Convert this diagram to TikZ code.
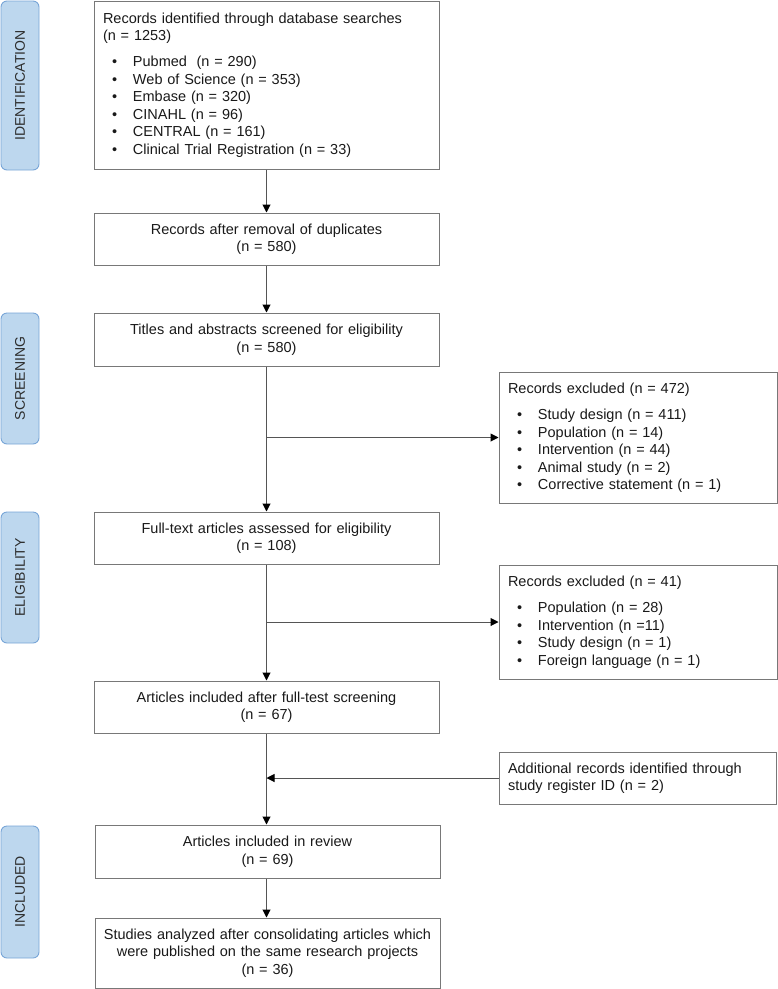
\documentclass[tikz,border=0pt]{standalone}
\usepackage{fontspec}
\setmainfont{Liberation Sans}
\usetikzlibrary{arrows.meta}

\definecolor{boxline}{RGB}{120,120,120}
\definecolor{flowline}{RGB}{85,85,85}
\definecolor{txt}{RGB}{25,25,25}
\definecolor{phasefill}{RGB}{189,215,238}
\definecolor{phaseline}{RGB}{120,165,215}
\definecolor{phasetxt}{RGB}{45,45,45}

% bullet line inside a list box
\newcommand{\bitem}[1]{\hspace*{9pt}\makebox[21pt][l]{\textbullet}#1}

\begin{document}
\begin{tikzpicture}[x=1pt,y=-1pt,
  basefont/.style={font=\fontsize{14.5}{17.5}\selectfont, text=txt},
  flowbox/.style={basefont, draw=boxline, line width=1pt, inner sep=0pt,
    rectangle, align=center, text width=330pt, minimum width=345pt},
  listbox/.style={basefont, draw=boxline, line width=1pt, inner sep=0pt,
    rectangle, align=left},
  phase/.style={font=\fontsize{14}{16}\selectfont, text=phasetxt,
    fill=phasefill, draw=phaseline, line width=0.9pt, rounded corners=6pt,
    minimum height=38pt, inner sep=0pt, rotate=90},
  flow/.style={draw=flowline, line width=1pt,
    -{Triangle[length=8pt,width=8pt,fill=black,color=black]}}
]
\useasboundingbox (0,0) rectangle (778,989);

% phase labels
\node[phase, minimum width=169pt] (pid)  at (20,85.5)  {IDENTIFICATION};
\node[phase, minimum width=131pt] (pscr) at (20,378.5) {SCREENING};
\node[phase, minimum width=131pt] (pel)  at (20,577.5) {ELIGIBILITY};
\node[phase, minimum width=132pt] (pinc) at (20,892)   {INCLUDED};

% main flow boxes
\node[listbox, text width=327pt, minimum width=345pt, minimum height=168pt]
  (ident) at (266.5,85) {%
  Records identified through database searches\\
  (n = 1253)\\[8.5pt]
  \bitem{Pubmed\ \ (n = 290)}\\
  \bitem{Web of Science (n = 353)}\\
  \bitem{Embase (n = 320)}\\
  \bitem{CINAHL (n = 96)}\\
  \bitem{CENTRAL (n = 161)}\\
  \bitem{Clinical Trial Registration (n = 33)}};

\node[flowbox, minimum height=52pt] (dedup) at (266.5,239)
  {Records after removal of duplicates\\(n = 580)};
\node[flowbox, minimum height=53pt] (screen) at (266.5,339.5)
  {Titles and abstracts screened for eligibility\\(n = 580)};
\node[flowbox, minimum height=52pt] (full) at (266.5,538)
  {Full-text articles assessed for eligibility\\(n = 108)};
\node[flowbox, minimum height=52pt] (after) at (266.5,707)
  {Articles included after full-test screening\\(n = 67)};
\node[flowbox, minimum height=53pt] (review) at (267.5,851.5)
  {Articles included in review\\(n = 69)};
\node[flowbox, minimum height=70pt] (studies) at (267.5,953)
  {Studies analyzed after consolidating articles which\\
   were published on the same research projects\\(n = 36)};

% side boxes
\node[listbox, text width=260pt, minimum width=278pt, minimum height=131pt]
  (excl1) at (638,437.5) {%
  Records excluded (n = 472)\\[9pt]
  \bitem{Study design (n = 411)}\\
  \bitem{Population (n = 14)}\\
  \bitem{Intervention (n = 44)}\\
  \bitem{Animal study (n = 2)}\\
  \bitem{Corrective statement (n = 1)}};

\node[listbox, text width=260pt, minimum width=278pt, minimum height=114pt]
  (excl2) at (638,622) {%
  Records excluded (n = 41)\\[9pt]
  \bitem{Population (n = 28)}\\
  \bitem{Intervention (n =11)}\\
  \bitem{Study design (n = 1)}\\
  \bitem{Foreign language (n = 1)}};

\node[listbox, text width=259pt, minimum width=277pt, minimum height=52pt]
  (extra) at (637.5,778) {%
  Additional records identified through\\
  study register ID (n = 2)};

% connectors
\draw[flow] (ident) -- (dedup);
\draw[flow] (dedup) -- (screen);
\draw[flow] (screen) -- (full);
\draw[flow] (full) -- (after);
\draw[flow] (after.south) -- (after.south |- review.north);
\draw[flow] (review.south -| after.south) -- (after.south |- studies.north);

\draw[flow] (screen.south |- excl1.west) -- (excl1.west);
\draw[flow] (full.south |- excl2.west) -- (excl2.west);
\draw[flow] (extra.west) -- (after.south |- extra.west);
\end{tikzpicture}
\end{document}
